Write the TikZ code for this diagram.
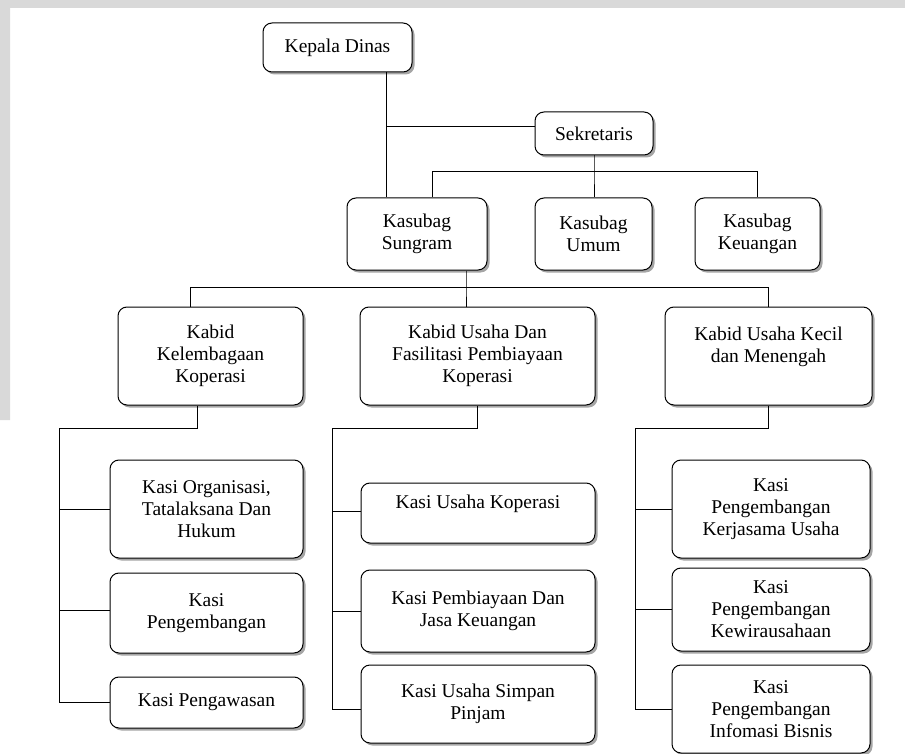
\documentclass[tikz,border=0pt]{standalone}
\usepackage{fontspec}
\setmainfont{Liberation Serif}
\usetikzlibrary{shadows}

\begin{document}
\begin{tikzpicture}[x=1pt,y=-1pt,line width=1pt]
  \tikzstyle{box}=[draw=black,fill=white,rounded corners=9pt,align=center,
                   font=\fontsize{19.5}{22}\selectfont,inner sep=0pt,
                   drop shadow={shadow xshift=2.5pt,shadow yshift=-2.5pt,fill=black!70}]
  \useasboundingbox (0,0) rectangle (905,754);
  \fill[white] (0,0) rectangle (905,754);
  \fill[black!15] (0,0) rectangle (905,8) (0,0) rectangle (10,420);

  % top
  \node[box,minimum width=149pt,minimum height=49pt] (kd)   at (337.5,47.5) {Kepala Dinas};
  \node[box,minimum width=118pt,minimum height=43pt] (sek)  at (594,133.5) {Sekretaris};
  \node[box,minimum width=140pt,minimum height=72pt] (ksg)  at (417,234) {Kasubag\\Sungram};
  \node[box,minimum width=117pt,minimum height=72pt] (kum)  at (593.5,234) {Kasubag\\Umum};
  \node[box,minimum width=125pt,minimum height=72pt] (kkeu) at (757.5,234) {Kasubag\\Keuangan};

  % kabid
  \node[box,minimum width=185pt,minimum height=98pt] (kb1) at (210.5,356) {Kabid\\Kelembagaan\\Koperasi};
  \node[box,minimum width=235pt,minimum height=98pt] (kb2) at (477.5,356) {Kabid Usaha Dan\\Fasilitasi Pembiayaan\\Koperasi};
  \node[box,minimum width=207pt,minimum height=98pt] (kb3) at (768.5,356) {Kabid Usaha Kecil\\dan Menengah\\\mbox{}};

  % kasi
  \node[box,minimum width=193pt,minimum height=98pt] (ks11) at (206.5,509) {Kasi Organisasi,\\Tatalaksana Dan\\Hukum};
  \node[box,minimum width=193pt,minimum height=80pt] (ks12) at (206.5,613) {Kasi\\Pengembangan};
  \node[box,minimum width=193pt,minimum height=51pt] (ks13) at (206.5,702.5) {Kasi Pengawasan};

  \node[box,minimum width=234pt,minimum height=60pt] (ks21) at (478,513) {Kasi Usaha Koperasi\\\mbox{}};
  \node[box,minimum width=234pt,minimum height=82pt] (ks22) at (478,611) {Kasi Pembiayaan Dan\\Jasa Keuangan};
  \node[box,minimum width=234pt,minimum height=78pt] (ks23) at (478,704) {Kasi Usaha Simpan\\Pinjam};

  \node[box,minimum width=198pt,minimum height=98pt] (ks31) at (771,509) {Kasi\\Pengembangan\\Kerjasama Usaha};
  \node[box,minimum width=198pt,minimum height=83pt] (ks32) at (771,609.5) {Kasi\\Pengembangan\\Kewirausahaan};
  \node[box,minimum width=198pt,minimum height=88pt] (ks33) at (771,709) {Kasi\\Pengembangan\\Infomasi Bisnis};

  % lines
  \coordinate (kdx) at ([xshift=48.5pt]kd.south);
  \coordinate (sw)  at ([yshift=6.5pt]sek.west);
  \coordinate (sb)  at (594,172);
  \coordinate (sl)  at (432,172);
  \coordinate (kbb) at (466,287);
  \coordinate (kbl) at (190,287);
  \coordinate (b1)  at (59,428);
  \coordinate (b2)  at (332,428);
  \coordinate (b3)  at (635,428);
  \coordinate (w12) at ([yshift=3pt]ks12.west);
  \coordinate (w21) at ([yshift=2pt]ks21.west);
  \coordinate (w23) at ([yshift=-5pt]ks23.west);

  \draw (kdx) -- (kdx |- ksg.north);
  \draw (sw) -- (kdx |- sw);
  \draw (sek.south) -- (sb) -- (sb |- kum.north);
  \draw (sl |- ksg.north) -- (sl) -- (sl -| kkeu.north) -- (kkeu.north);

  \draw (kbb |- ksg.south) -- (kbb) -- (kbb |- kb2.north);
  \draw (kbl |- kb1.north) -- (kbl) -- (kbl -| kb3.north) -- (kb3.north);

  \draw ([xshift=-13.5pt]kb1.south) |- (b1) |- (ks13.west);
  \draw (b1 |- ks11.west) -- (ks11.west);
  \draw (b1 |- w12) -- (w12);
  \draw (kb2.south) |- (b2) |- (w23);
  \draw (b2 |- w21) -- (w21);
  \draw (b2 |- ks22.west) -- (ks22.west);
  \draw (kb3.south) |- (b3) |- (ks33.west);
  \draw (b3 |- ks31.west) -- (ks31.west);
  \draw (b3 |- ks32.west) -- (ks32.west);
\end{tikzpicture}
\end{document}
